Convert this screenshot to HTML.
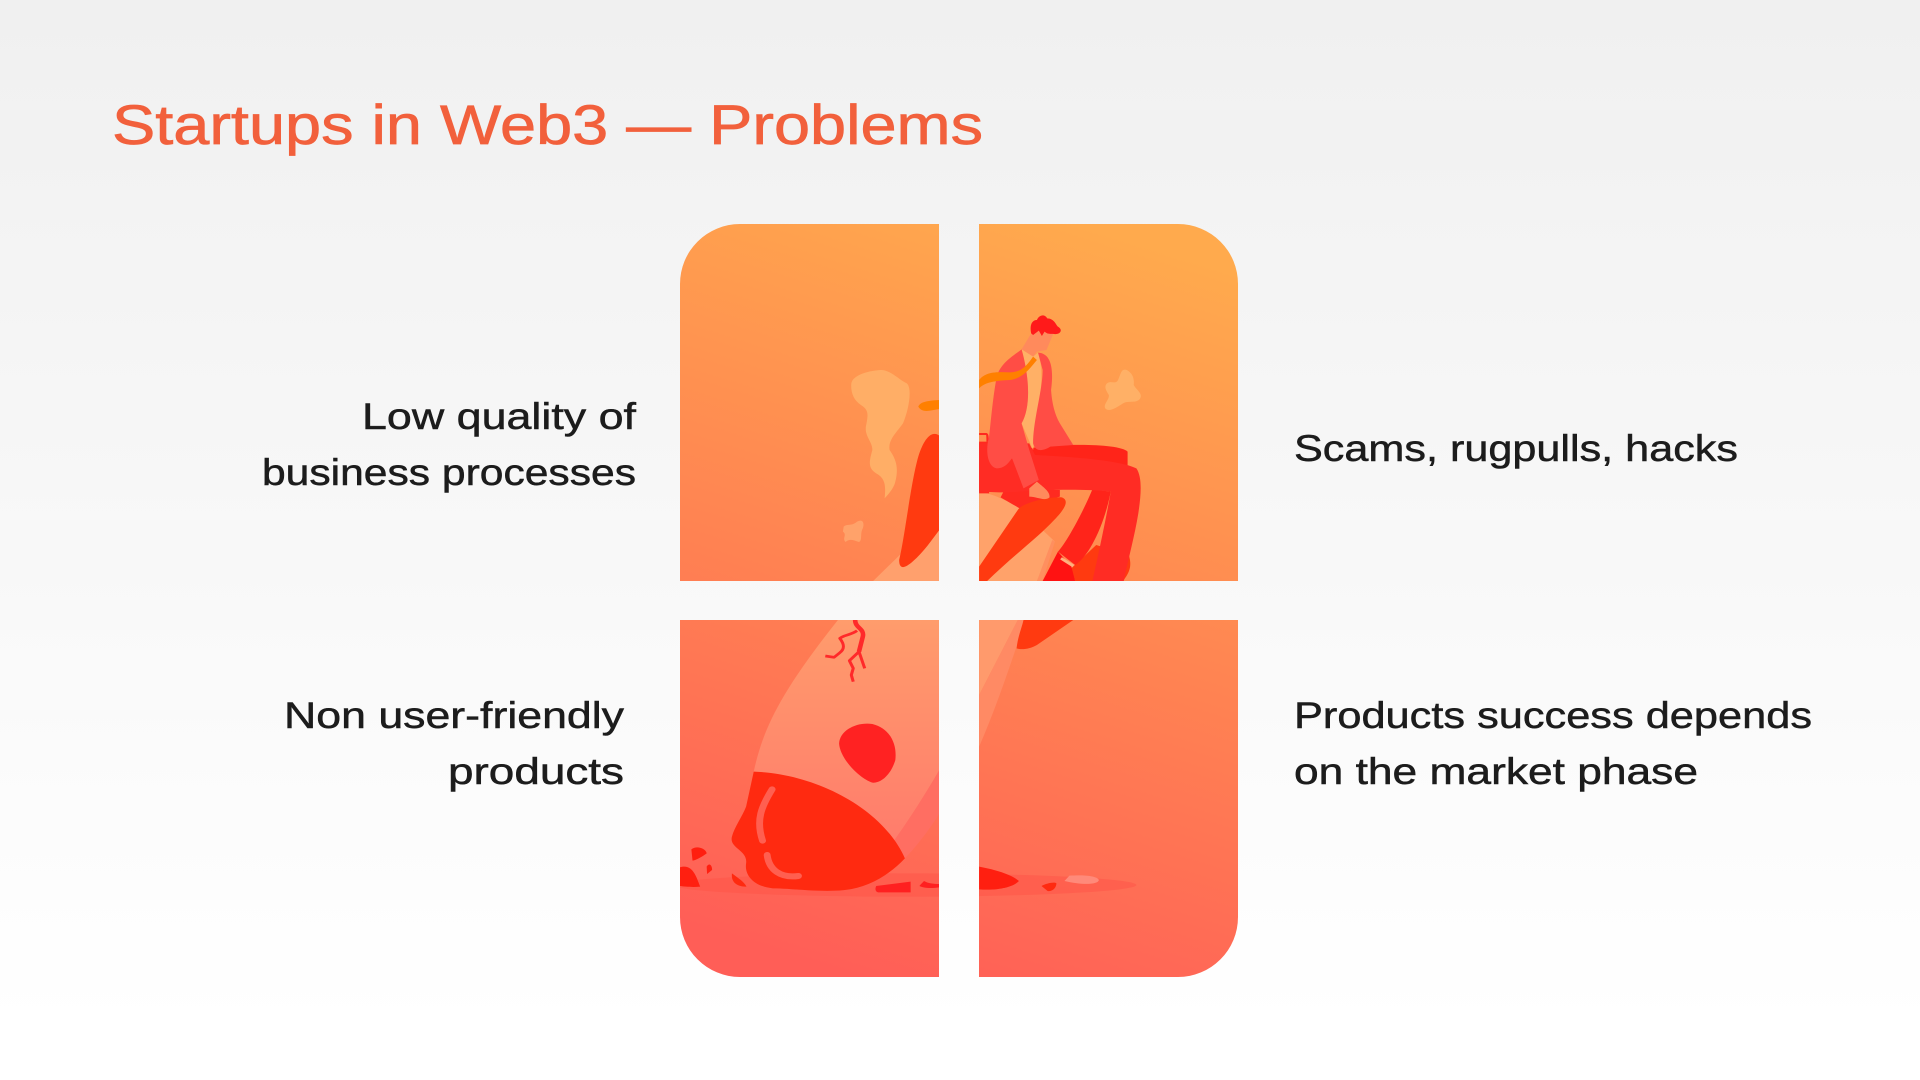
<!DOCTYPE html>
<html lang="en">
<head>
<meta charset="utf-8">
<title>Startups in Web3 — Problems</title>
<style>
html,body{margin:0;padding:0;width:1920px;height:1080px;overflow:hidden;background:#fff}
svg{display:block}
text{font-family:"Liberation Sans",sans-serif}
.t{font-size:37px;fill:#1c1c1c;stroke:#1c1c1c;stroke-width:.5px}
</style>
</head>
<body>
<svg xmlns="http://www.w3.org/2000/svg" width="1920" height="1080" viewBox="0 0 1920 1080">
<defs>
<linearGradient id="bg" x1="0" y1="0" x2="0" y2="1">
<stop offset="0" stop-color="#f0f0f0"/>
<stop offset=".95" stop-color="#ffffff"/>
</linearGradient>
<linearGradient id="tile" gradientUnits="userSpaceOnUse" x1="1085" y1="224" x2="850" y2="977">
<stop offset="0" stop-color="#ffaa4d"/>
<stop offset="1" stop-color="#ff5e57"/>
</linearGradient>
<linearGradient id="trail" gradientUnits="userSpaceOnUse" x1="0" y1="60" x2="0" y2="750">
<stop offset="0" stop-color="#ff9c6c"/>
<stop offset="1" stop-color="#ff7b6c"/>
</linearGradient>
<clipPath id="panels">
<path d="M740 224H939V581H680V284A60 60 0 0 1 740 224Z"/>
<path d="M979 224H1178A60 60 0 0 1 1238 284V581H979Z"/>
<path d="M680 620H939V977H740A60 60 0 0 1 680 917Z"/>
<path d="M979 620H1238V917A60 60 0 0 1 1178 977H979Z"/>
</clipPath>
</defs>
<rect width="1920" height="1080" fill="url(#bg)"/>
<text x="112" y="144" font-size="56" fill="#f2603c" stroke="#f2603c" stroke-width=".7" textLength="871" lengthAdjust="spacingAndGlyphs">Startups in Web3 — Problems</text>

<g clip-path="url(#panels)">
<rect x="680" y="224" width="558" height="753" fill="url(#tile)"/>

<!-- top half -->
<g transform="translate(660,210) scale(.38265,.33333)">
<path fill="#ffae66" d="M500 520C505 490 560 480 580 480C605 482 625 510 645 520C660 535 650 600 635 640C620 665 595 690 600 720C615 745 625 770 615 815C610 840 590 860 587 865C590 830 590 805 565 790C545 775 545 760 555 720C555 695 535 680 538 650C545 610 545 600 525 585C505 570 498 545 500 520Z"/>
<path fill="#ffa26a" d="M480 950C490 940 500 950 515 935C530 925 535 940 530 955C522 970 530 990 520 996C505 990 495 985 485 996C475 985 490 975 478 965Z"/>
<path fill="#ffb066" d="M1168 520C1180 510 1190 525 1197 510C1205 490 1205 475 1220 480C1235 490 1240 505 1238 525C1245 540 1262 550 1255 565C1245 582 1225 570 1210 580C1190 595 1175 605 1165 597C1155 585 1175 570 1173 555C1165 540 1160 530 1168 520Z"/>
<path fill="#ff8000" d="M675 590C680 575 700 572 730 570V597C705 602 685 610 675 590Z"/>
<path fill="#ffa06d" d="M557 1113L640 1020L730 950V1113Z"/>
<path fill="#ff3a10" d="M730 677C710 660 690 685 675 740C655 820 640 980 625 1050C625 1080 640 1075 660 1055C690 1025 710 990 730 960Z"/>
<path fill="#ffa26a" d="M834 845C870 850 920 880 940 895L1032 995L985 1113H834Z"/>
<path fill="#ff8f5f" d="M1032 995L1000 1113H985L1025 990Z"/>

<!-- far shoe -->
<path fill="#ff3a10" d="M1075 1075L1140 1005L1225 1035C1235 1070 1225 1090 1210 1113H1085Z"/>
<!-- back leg -->
<path fill="#ff241a" d="M1130 838C1100 920 1060 1000 1040 1025L1085 1065C1120 1040 1160 950 1178 845Z"/>
<path fill="#ff1212" d="M1040 1025L1000 1113H1085L1075 1070Z"/>
<path stroke="#ffb080" stroke-width="8" fill="none" d="M1048 1045L1080 1068"/>
<!-- bag -->
<path fill="#ff2a20" d="M834 695H860V850H834Z"/>
<path fill="none" stroke="#ff2a20" stroke-width="6" d="M834 672H852C856 672 856 680 856 695"/>
<path fill="#ff2a20" d="M900 840H1045V860L1020 868L940 895C925 885 905 872 890 862Z"/>
<!-- thighs -->
<path fill="#ff2419" d="M965 715C1050 700 1200 700 1222 725V770L1000 780Z"/>
<path fill="#ff2c24" d="M834 700H965L980 735C1070 740 1200 750 1245 775C1260 800 1258 850 1250 910C1240 980 1225 1040 1212 1113H1130C1145 1040 1170 900 1178 845C1100 835 1000 840 940 845C890 850 860 845 834 845Z"/>
<!-- front leg -->
<path fill="#ff3a10" d="M834 1070L935 900C945 880 1010 860 1050 862C1070 870 1060 895 1030 930C990 980 920 1040 855 1113H834Z"/>
<!-- neck/face -->
<path fill="#ff8a5c" d="M970 370L945 418L975 440L985 425L1010 420L1030 365L990 345Z"/>
<path fill="#ff1a1a" d="M970 370C965 340 975 330 985 330C990 315 1005 310 1012 325C1030 325 1035 345 1040 350C1055 360 1045 375 1030 372C1020 370 1015 375 1005 365L998 378L990 362L975 375Z"/>
<!-- shirt -->
<path fill="#ffb066" d="M945 418L975 440L988 428C1000 470 1000 520 985 620L975 720L945 640C970 590 965 500 945 418Z"/>
<!-- jacket -->
<path fill="#ff4d45" d="M945 418C920 440 890 460 880 500C870 560 865 630 860 680C850 720 855 770 880 775C905 775 915 750 920 745L950 835L990 810L965 720L945 640C970 590 965 500 945 418Z"/>
<path fill="#ff4d45" d="M988 428C1020 430 1030 470 1022 540C1025 590 1035 620 1045 640L1080 705L1020 710C1000 725 980 725 975 700C975 630 1000 540 1000 480Z"/>
<path fill="#ff8a5c" d="M965 860L965 835L985 815C1000 830 1020 845 1018 862C1005 875 985 860 965 860Z"/>
<path fill="#ff8000" d="M834 510C850 485 880 485 915 487C945 487 960 465 975 440L985 450C970 470 950 505 915 510C880 512 850 515 834 535Z"/>
</g>

<!-- bottom half -->
<g transform="translate(660,600) scale(.38265,.33333)">
<path fill="url(#trail)" d="M465 60H730V510C690 590 650 660 610 725L245 515C270 380 320 270 465 60Z"/>
<path fill="#ff6e62" d="M730 510V640C710 680 670 740 640 775L610 725C650 660 690 590 730 510Z"/>
<path fill="#ff9a6c" d="M834 60H935L834 285Z"/>
<path fill="#ff8a64" d="M834 285L935 60H955C920 180 880 320 834 440Z"/>
<ellipse cx="640" cy="855" rx="605" ry="35" fill="#ff5548" opacity=".55"/>
<path fill="#ff2a10" d="M245 515C400 520 580 620 640 775C590 835 530 870 460 872C400 875 340 865 295 865C250 860 220 830 225 790C230 750 180 745 188 710C195 680 215 650 225 620Z"/>
<path fill="none" stroke="#ff5f50" stroke-width="18" stroke-linecap="round" d="M293 568C265 620 250 660 268 722"/>
<path fill="none" stroke="#ff5f50" stroke-width="18" stroke-linecap="round" d="M280 765C285 810 315 835 362 828"/>
<path fill="#ff2222" d="M468 430C470 390 515 365 555 372C600 385 620 430 615 480C605 520 580 550 555 548C520 535 470 475 468 430Z"/>
<path fill="#ff1f10" d="M82 748C95 735 120 745 122 760C110 770 95 780 85 782Z"/>
<path fill="#ff1f10" d="M122 800C130 785 137 800 136 810L123 822Z"/>
<path fill="#ff1f10" d="M52 802C85 790 95 830 105 860C85 862 65 860 52 858Z"/>
<path fill="#ff2a10" d="M188 820C205 835 220 845 226 860C205 860 185 850 188 820Z"/>
<path fill="#ff2020" d="M565 858L655 845V877H570C562 875 562 865 565 858Z"/>
<path fill="#ff2020" d="M680 855L690 843C700 850 715 852 730 852V862C710 865 690 865 678 858Z"/>
<path fill="#ff1f10" d="M834 800C880 810 920 825 938 843C920 865 870 872 834 868Z"/>
<path fill="#ff2a10" d="M997 858C1010 850 1030 845 1036 850C1035 865 1025 875 1013 873Z"/>
<path fill="#ff8a7a" d="M1057 843L1070 827C1100 825 1140 825 1147 840C1145 855 1100 855 1057 843Z"/>
<path fill="#ff3a10" d="M950 60H1080L985 135C965 148 945 150 932 145C935 110 945 85 950 60Z"/>
<g fill="none" stroke="#ff2a2a" stroke-width="8" stroke-linejoin="round">
<path stroke-width="12" d="M510 60C510 85 535 85 530 110L520 155"/>
<path d="M520 155L535 205M520 155L495 182L505 205L500 225L505 245"/>
<path d="M515 92C500 105 480 105 470 115C480 130 485 145 470 158L455 172L432 168"/>
</g>
</g>
</g>

<text class="t" x="362" y="429" textLength="274" lengthAdjust="spacingAndGlyphs">Low quality of</text>
<text class="t" x="262" y="485" textLength="374" lengthAdjust="spacingAndGlyphs">business processes</text>
<text class="t" x="1294" y="461" textLength="444" lengthAdjust="spacingAndGlyphs">Scams, rugpulls, hacks</text>
<text class="t" x="284" y="728" textLength="340" lengthAdjust="spacingAndGlyphs">Non user-friendly</text>
<text class="t" x="448" y="784" textLength="176" lengthAdjust="spacingAndGlyphs">products</text>
<text class="t" x="1294" y="728" textLength="518" lengthAdjust="spacingAndGlyphs">Products success depends</text>
<text class="t" x="1294" y="784" textLength="404" lengthAdjust="spacingAndGlyphs">on the market phase</text>
</svg>
</body>
</html>
